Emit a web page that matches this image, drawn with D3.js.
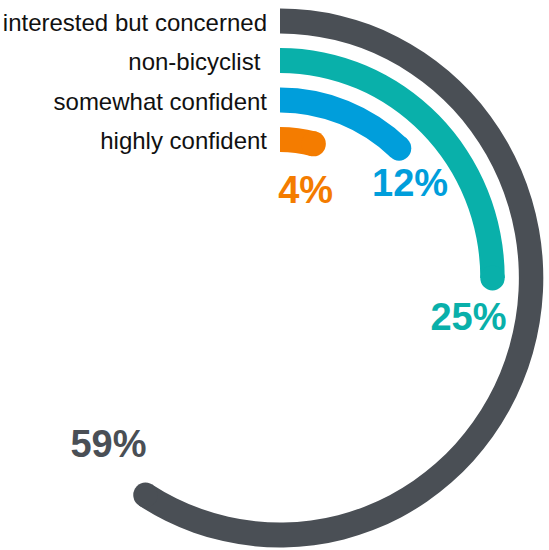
<!DOCTYPE html>
<html>
<head>
<meta charset="utf-8">
<script src="https://d3js.org/d3.v7.min.js"></script>
<style>
  body { margin: 0; background: #fff; }
  text { font-family: "Liberation Sans", Arial, sans-serif; }
</style>
</head>
<body>
<svg id="chart" width="549" height="550"></svg>
<script>

  // data, outer ring first
  var categories = ["interested but concerned", "non-bicyclist ", "somewhat confident", "highly confident"];
  var shares = [59, 25, 12, 4];
  var colors = ["#4a4f55", "#09b0aa", "#009edb", "#f47c00"];

  var width = 549, height = 550;
  var cx = 280, cy = 278;
  var squeeze = 0.977;   // the picture is a bit narrower than tall
  var band = 25;

  // where each % label sits relative to the end of its ring
  var labelShift = [[-37, -38], [-24, 52], [11, 48], [-8, 59]];

  var svg = d3.select("#chart");

  var angle = d3.scaleLinear().domain([0, 100]).range([0, 2 * Math.PI]);
  var radius = d3.scaleLinear().domain([0, categories.length - 1]).range([257, 138.5]);

  var rows = shares.map(function (d, i) {
    return { name: categories[i], value: d, color: colors[i], r: radius(i), a: angle(d) };
  });

  var rings = svg.append("g")
      .attr("transform", "translate(" + cx + "," + cy + ") scale(" + squeeze + ",1)");

  var arc = d3.arc()
      .innerRadius(d => d.r - band / 2)
      .outerRadius(d => d.r + band / 2)
      .startAngle(0)
      .endAngle(d => d.a);

  rings.selectAll("path")
      .data(rows)
      .join("path")
      .attr("d", arc)
      .attr("fill", d => d.color);

  // rounded end caps
  rings.selectAll("circle")
      .data(rows)
      .join("circle")
      .attr("cx", d => d.r * Math.sin(d.a))
      .attr("cy", d => -d.r * Math.cos(d.a))
      .attr("r", band / 2)
      .attr("fill", d => d.color);

  // category names, right aligned against the start of each ring
  svg.append("g")
      .selectAll("text")
      .data(rows)
      .join("text")
      .attr("x", cx - 13)
      .attr("y", d => cy - d.r + 1)
      .attr("text-anchor", "end")
      .attr("dominant-baseline", "central")
      .style("white-space", "pre")
      .style("font-size", "24px")
      .attr("fill", "#111")
      .text(d => d.name);

  // percentages
  svg.append("g")
      .selectAll("text")
      .data(rows)
      .join("text")
      .attr("x", (d, i) => cx + squeeze * d.r * Math.sin(d.a) + labelShift[i][0])
      .attr("y", (d, i) => cy - d.r * Math.cos(d.a) + labelShift[i][1])
      .attr("text-anchor", "middle")
      .style("font-size", "38px")
      .style("font-weight", "bold")
      .attr("fill", d => d.color)
      .text(d => d.value + "%");

</script>
</body>
</html>
